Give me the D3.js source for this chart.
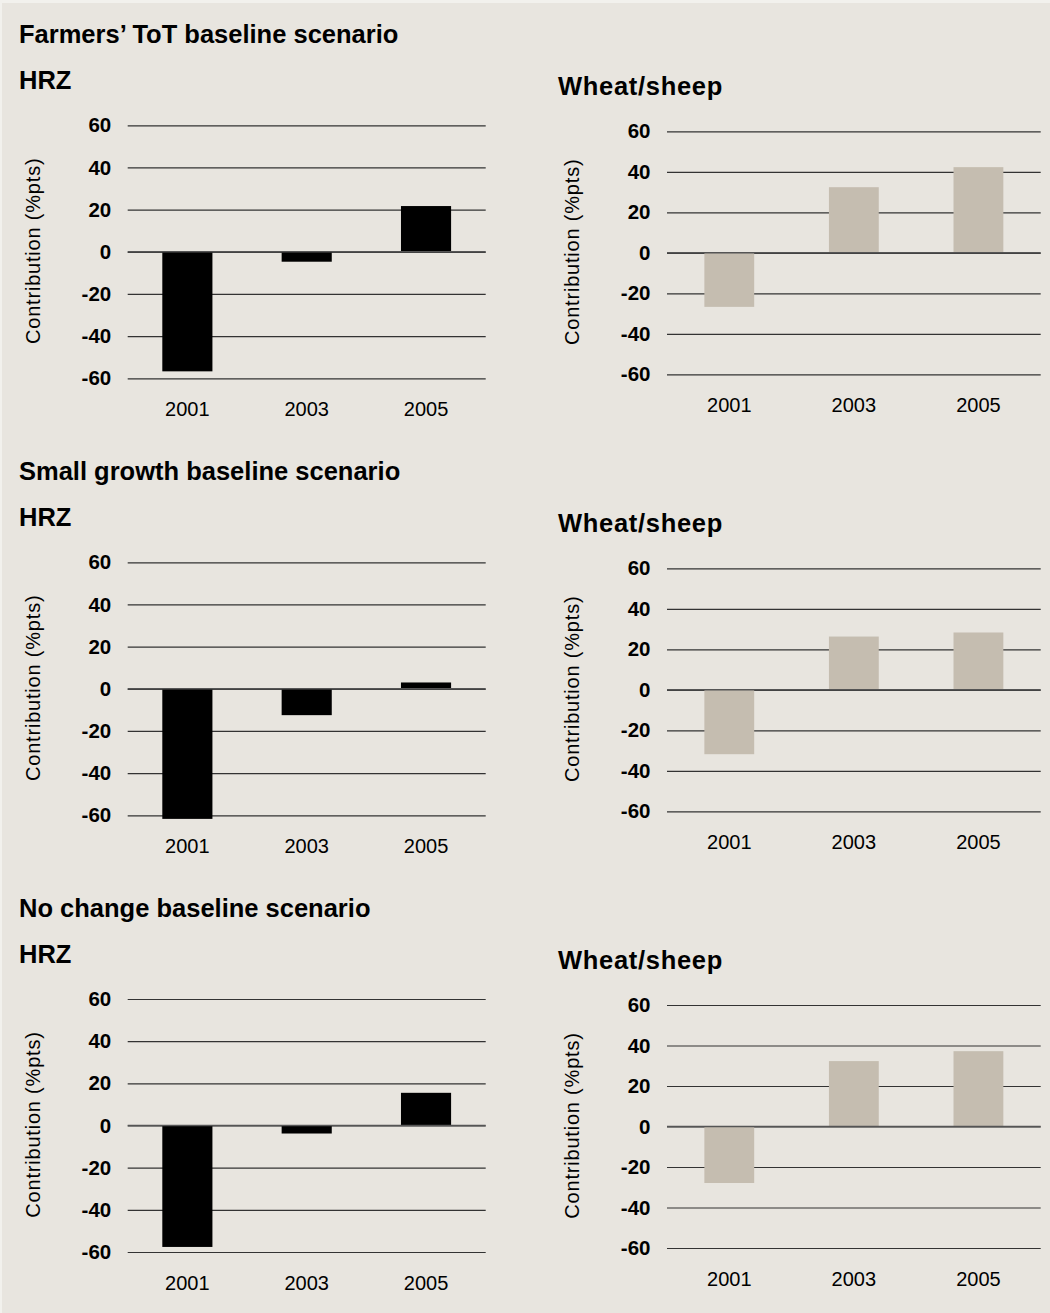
<!DOCTYPE html>
<html>
<head>
<meta charset="utf-8">
<script src="https://cdn.jsdelivr.net/npm/d3@7"></script>
<style>
  html, body { margin: 0; padding: 0; background: #f2f1ed; }
  svg { display: block; }
  text { font-family: "Liberation Sans", Arial, Helvetica, sans-serif; fill: #000; }
</style>
</head>
<body>
<svg id="chart" width="1050" height="1313"></svg>
<script>
// ---- data ----
const categories = ["2001", "2003", "2005"];
const scenarioTitles = ["Farmers’ ToT baseline scenario", "Small growth baseline scenario", "No change baseline scenario"];
const panelTitles = ["HRZ", "Wheat/sheep"];
const yTicks = [-60, -40, -20, 0, 20, 40, 60];
const hrzToT = [-56.7, -4.7, 21.7];
const hrzSmallGrowth = [-61.7, -12.5, 3.0];
const hrzNoChange = [-57.6, -3.8, 15.5];
const wsToT = [-26.7, 32.4, 42.3];
const wsSmallGrowth = [-31.8, 26.3, 28.3];
const wsNoChange = [-27.9, 32.3, 37.2];

const hrzSeries = [hrzToT, hrzSmallGrowth, hrzNoChange];
const wsSeries = [wsToT, wsSmallGrowth, wsNoChange];

// ---- layout ----
const svg = d3.select("#chart");
svg.append("rect").attr("x", 2).attr("y", 3).attr("width", 1048).attr("height", 1310).attr("fill", "#e8e5df");

const rowOffsets = [0, 437, 873.7];
const panels = [
  { title: panelTitles[0], tx: 19, ty: 89.3, x0: 127.7, x1: 485.7, yTop: 125.3, yBot: 378.3, color: "#000000", pi: 0.58, series: hrzSeries, ls: 0 },
  { title: panelTitles[1], tx: 558, ty: 95, x0: 667, x1: 1040.7, yTop: 131.3, yBot: 374.3, color: "#c5bdb0", pi: 0.6, series: wsSeries, ls: 0.7 }
];

rowOffsets.forEach((off, r) => {
  svg.append("text")
    .attr("x", 19).attr("y", 43 + off)
    .attr("font-size", 25.5).attr("font-weight", "bold")
    .text(scenarioTitles[r]);

  panels.forEach(p => {
    svg.append("text")
      .attr("x", p.tx).attr("y", p.ty + off)
      .attr("font-size", 25.5).attr("font-weight", "bold")
      .attr("letter-spacing", p.ls)
      .text(p.title);

    const g = svg.append("g");
    const x = d3.scaleBand().domain(categories).range([p.x0, p.x1])
      .paddingInner(p.pi).paddingOuter(p.pi / 2);
    const y = d3.scaleLinear().domain([-60, 60]).range([p.yBot + off, p.yTop + off]);

    // gridlines + tick labels
    const yAxis = g.append("g")
      .attr("transform", `translate(${p.x0},0)`)
      .call(d3.axisLeft(y).tickValues(yTicks).tickFormat(d => String(d))
        .tickSize(-(p.x1 - p.x0)).tickPadding(16.5));
    yAxis.select(".domain").remove();
    yAxis.selectAll(".tick line").attr("stroke", "#333").attr("stroke-width", 1.2);
    yAxis.selectAll(".tick text")
      .attr("font-size", 20.5).attr("font-weight", "bold")
      .attr("font-family", "'Liberation Sans', Arial, sans-serif").attr("fill", "#000");

    // bars
    const vals = p.series[r];
    g.selectAll("rect.bar").data(categories.map((c, i) => ({ c, v: vals[i] })))
      .enter().append("rect").attr("class", "bar")
      .attr("x", d => x(d.c))
      .attr("width", x.bandwidth())
      .attr("y", d => y(Math.max(0, d.v)))
      .attr("height", d => Math.abs(y(d.v) - y(0)))
      .attr("fill", p.color);

    // zero line on top
    g.append("line")
      .attr("x1", p.x0).attr("x2", p.x1)
      .attr("y1", y(0)).attr("y2", y(0))
      .attr("stroke", "#555").attr("stroke-width", 1.6);

    // x axis labels
    const xAxis = g.append("g")
      .attr("transform", `translate(0,${p.yBot + off})`)
      .call(d3.axisBottom(x).tickSize(0).tickPadding(0));
    xAxis.select(".domain").remove();
    xAxis.selectAll(".tick text")
      .attr("y", 38).attr("dy", 0)
      .attr("font-size", 20)
      .attr("font-family", "'Liberation Sans', Arial, sans-serif").attr("fill", "#000");

    // y axis title
    const cy = (p.yTop + p.yBot) / 2 + off - 1;
    g.append("text")
      .attr("transform", `translate(${p.x0 - 88},${cy}) rotate(-90)`)
      .attr("text-anchor", "middle")
      .attr("font-size", 20)
      .attr("letter-spacing", 0.8)
      .text("Contribution (%pts)");
  });
});
</script>
</body>
</html>
